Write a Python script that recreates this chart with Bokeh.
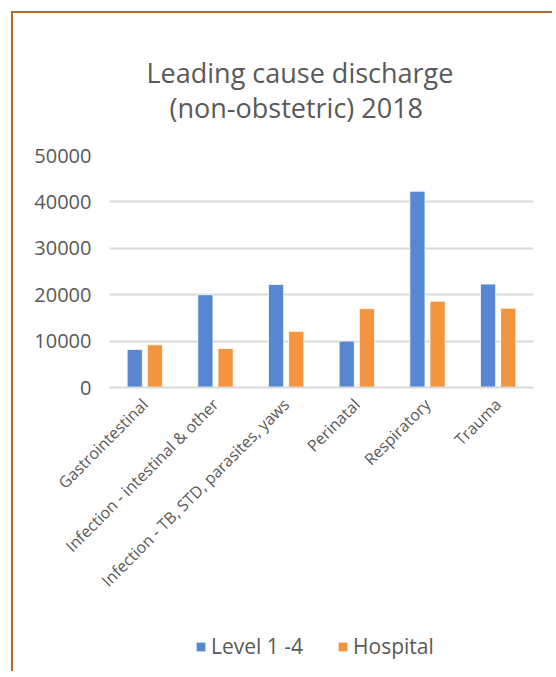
from bokeh.plotting import figure
from bokeh.layouts import column
from bokeh.models import (FactorRange, Range1d, Legend, LegendItem, Title,
                          ColumnDataSource, FixedTicker)
from bokeh.transform import dodge
from bokeh.embed import file_html
from bokeh.resources import INLINE
from math import pi

categories = ["Gastrointestinal", "Infection - intestinal & other",
              "Infection - TB, STD, parasites, yaws", "Perinatal",
              "Respiratory", "Trauma"]
level_1_4 = [8200, 20000, 22200, 10000, 42300, 22300]
hospital = [9200, 8400, 12100, 17000, 18600, 17100]
y_ticks = [0, 10000, 20000, 30000, 40000, 50000]
title_lines = ["Leading cause discharge", "(non-obstetric) 2018"]
series_names = ["Level 1 -4", "Hospital"]

BLUE = "#5787D3"
ORANGE = "#F39440"
GREY = "#595959"
GRID = "#D9D9D9"
BORDER = "#B5692D"
FONT = "Open Sans"

src = ColumnDataSource(dict(cat=categories, lvl=level_1_4, hosp=hospital))

p = figure(width=541, height=604, x_range=FactorRange(*categories),
           y_range=Range1d(0, 50000), output_backend="svg",
           toolbar_location=None, title=None,
           min_border_left=96, min_border_right=21,
           min_border_top=142, min_border_bottom=230)
p.outline_line_color = None
p.background_fill_color = "white"
p.border_fill_color = "white"

r1 = p.vbar(x=dodge("cat", -0.143, range=p.x_range), top="lvl", width=0.215,
            source=src, fill_color=BLUE, line_color="white", line_width=0.8)
r2 = p.vbar(x=dodge("cat", 0.143, range=p.x_range), top="hosp", width=0.215,
            source=src, fill_color=ORANGE, line_color="white", line_width=0.8)

p.xgrid.grid_line_color = None
p.ygrid.grid_line_color = GRID
p.ygrid.grid_line_width = 2
p.yaxis.ticker = FixedTicker(ticks=y_ticks)
p.yaxis.axis_line_color = None
p.yaxis.major_tick_line_color = None
p.yaxis.minor_tick_line_color = None
p.yaxis.major_tick_out = 0
p.yaxis.major_label_standoff = 18
p.yaxis.major_label_text_font = FONT
p.yaxis.major_label_text_font_size = "20px"
p.yaxis.major_label_text_color = GREY

p.xaxis.axis_line_color = GRID
p.xaxis.axis_line_width = 2
p.xaxis.major_tick_line_color = None
p.xaxis.major_tick_out = 0
p.xaxis.major_label_orientation = pi / 4
p.xaxis.major_label_standoff = 14
p.xaxis.major_label_text_font = FONT
p.xaxis.major_label_text_font_size = "16px"
p.xaxis.major_label_text_color = GREY

# spacer between plot frame and title lines
p.add_layout(Title(text=" ", text_font_size="10px", standoff=19), "above")
p.add_layout(Title(text=title_lines[1], align="left", offset=60, standoff=-4,
                   text_font=FONT, text_font_size="27px", text_color=GREY,
                   text_font_style="normal"), "above")
p.add_layout(Title(text=title_lines[0], align="left", offset=37, standoff=-4,
                   text_font=FONT, text_font_size="27px", text_color=GREY,
                   text_font_style="normal"), "above")

# legend strip below the chart (its zero-width bars draw nothing visible)
lg = figure(width=541, height=56, x_range=FactorRange(*categories),
            y_range=Range1d(-200000, -100000), output_backend="svg",
            toolbar_location=None, title=None,
            min_border=0, x_axis_type=None, y_axis_type=None)
lg.outline_line_color = None
lg.grid.visible = False
lg.border_fill_color = "white"
lg.background_fill_color = "white"
g1 = lg.vbar(x="cat", top="lvl", width=0, source=src,
             fill_color=BLUE, line_color=None)
g2 = lg.vbar(x="cat", top="hosp", width=0, source=src,
             fill_color=ORANGE, line_color=None)
legend = Legend(items=[LegendItem(label=series_names[0], renderers=[g1]),
                       LegendItem(label=series_names[1], renderers=[g2])],
                orientation="horizontal", location=(86, 13),
                glyph_width=11, glyph_height=11, label_standoff=5, spacing=34,
                padding=0, margin=0, border_line_color=None,
                background_fill_alpha=0, label_text_font=FONT,
                label_text_font_size="21px", label_text_color=GREY)
lg.add_layout(legend, "center")

layout = column(p, lg, spacing=0)
layout.margin = (13, 0, 0, 13)
layout.styles = {"box-shadow": f"-2px -2px 0 0 {BORDER}"}

open("out.html", "w").write(file_html(layout, INLINE))
